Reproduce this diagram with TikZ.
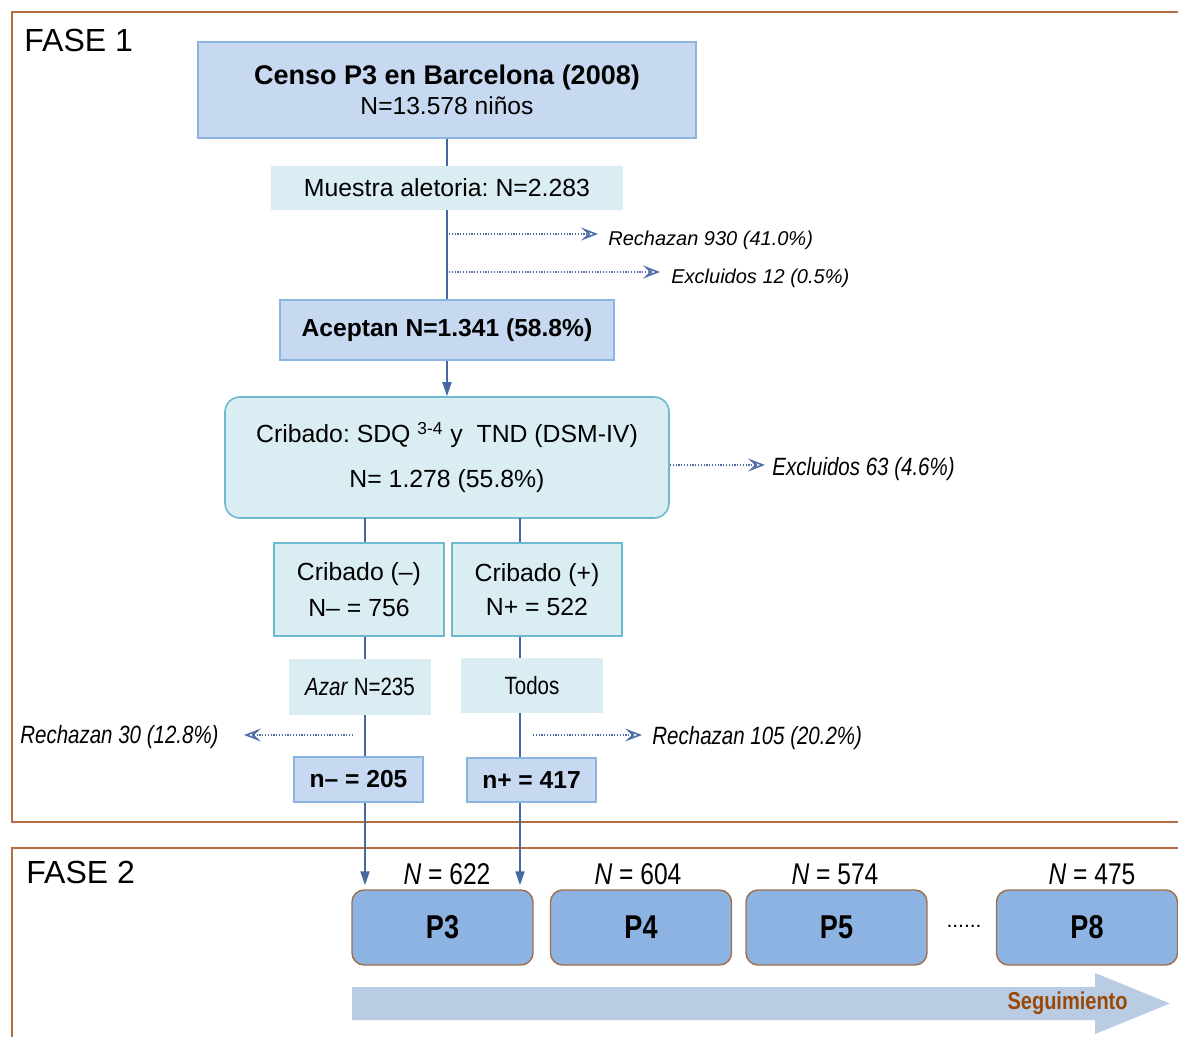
\documentclass[tikz,border=0pt]{standalone}
\usepackage{fontspec}
\setmainfont{Liberation Sans}
\newfontfamily\narrowsans[FakeStretch=0.82]{Liberation Sans}
\usetikzlibrary{positioning,arrows.meta}
\frenchspacing

\definecolor{framebrown}{RGB}{180,110,65}
\definecolor{flowblue}{RGB}{70,105,160}
\definecolor{dotblue}{RGB}{80,110,165}
\definecolor{boxfill}{RGB}{198,217,240}
\definecolor{boxedge}{RGB}{140,180,225}
\definecolor{cyanfill}{RGB}{218,237,243}
\definecolor{cyanedge}{RGB}{110,185,210}
\definecolor{pfill}{RGB}{141,179,226}
\definecolor{pedge}{RGB}{160,110,75}
\definecolor{followfill}{RGB}{185,204,228}
\definecolor{followtext}{RGB}{152,72,7}

\begin{document}
\begin{tikzpicture}[x=0.5pt, y=-0.5pt,
  % Node Styles
  phaselabel/.style={anchor=west, inner sep=0pt, font=\fontsize{16}{19}\selectfont},
  bluebox/.style={rectangle, draw=boxedge, line width=0.8pt, fill=boxfill, inner sep=0pt, align=center, font=\bfseries\fontsize{12.3}{14.8}\selectfont},
  cyanbox/.style={rectangle, fill=cyanfill, inner sep=0pt, align=center, font=\fontsize{12.4}{14.9}\selectfont},
  cribbox/.style={cyanbox, draw=cyanedge, line width=0.8pt},
  pickbox/.style={cyanbox, font=\narrowsans\fontsize{12.5}{15}\selectfont},
  pbox/.style={rectangle, rounded corners=6pt, draw=pedge, line width=0.7pt, fill=pfill, minimum width=90.5pt, minimum height=37.5pt, inner sep=0pt, font=\narrowsans\bfseries\fontsize{16.5}{19}\selectfont},
  ncount/.style={inner sep=0pt, font=\narrowsans\fontsize{15}{18}\selectfont},
  note/.style={inner sep=0pt, font=\itshape\fontsize{10}{12}\selectfont},
  narrownote/.style={inner sep=0pt, font=\narrowsans\itshape\fontsize{12.5}{15}\selectfont},
  % Arrow Styles
  phaseframe/.style={draw=framebrown, line width=1.3pt},
  flowline/.style={draw=flowblue, line width=1pt},
  flowarrow/.style={flowline, -{Triangle[length=7pt,width=4.5pt]}},
  dotarrow/.style={draw=dotblue, line width=0.9pt, dash pattern=on 0.6pt off 0.8pt, -{Stealth[open,length=8.5pt,width=6.5pt,inset=3.5pt,line width=0.8pt]}},
]
\useasboundingbox (0,0) rectangle (1178,1037);

% Phase frames
\draw[phaseframe] (1178,12) -- (12,12) -- (12,822) -- (1178,822);
\draw[phaseframe] (1178,848) -- (12,848) -- (12,1037);
\node[phaselabel] (fase1) at (24,40) {FASE 1};
\node[phaselabel] (fase2) at (26,872) {FASE 2};

% Phase 1 flow
\node[bluebox, minimum width=249pt, minimum height=48pt] (censo) at (447,90) {{\fontsize{13.5}{16}\selectfont Censo P3 en Barcelona (2008)}\\ \mdseries N=13.578 niños};
\node[cyanbox, minimum width=176pt, minimum height=22pt] (muestra) at (447,188) {Muestra aletoria: N=2.283};
\node[bluebox, minimum width=167pt, minimum height=30pt] (aceptan) at (447,330) {Aceptan N=1.341 (58.8\%)};
\node[cribbox, rounded corners=7.5pt, minimum width=222pt, minimum height=60.5pt] (cribado) at (447,457.5) {Cribado: SDQ \textsuperscript{3-4} y\ \ TND (DSM-IV)\\[7.5pt] N= 1.278 (55.8\%)};
\node[cribbox, minimum width=85pt, minimum height=46.5pt] (cribneg) at (359,589.5) {Cribado (–)\\[3pt] N– = 756};
\node[cribbox, minimum width=85pt, minimum height=46.5pt] (cribpos) at (537,589.5) {Cribado (+)\\[2pt] N+ = 522};
\node[pickbox, minimum width=71pt, minimum height=28pt] (azar) at (360,687) {\textit{Azar} N=235};
\node[pickbox, minimum width=71pt, minimum height=27.5pt] (todos) at (532,685.5) {Todos};
\node[bluebox, minimum width=64.5pt, minimum height=22.5pt] (nneg) at (358.5,779.5) {n– = 205};
\node[bluebox, minimum width=64.5pt, minimum height=22pt] (npos) at (531.5,780) {n+ = 417};

% Side notes
\node[note, anchor=west] (rech930) at (608,240) {Rechazan 930 (41.0\%)};
\node[note, anchor=west] (excl12) at (671,278) {Excluidos 12 (0.5\%)};
\node[narrownote, anchor=west] (excl63) at (772,469) {Excluidos 63 (4.6\%)};
\node[narrownote, anchor=east] (rech30) at (219,737) {Rechazan 30 (12.8\%)};
\node[narrownote, anchor=west] (rech105) at (652,738) {Rechazan 105 (20.2\%)};

\coordinate (r1) at (449,234);
\coordinate (e1) at (449,272);
\coordinate (e2) at (670,465);
\coordinate (r2) at (353,735);
\coordinate (r3) at (533,735);
\coordinate (lcol) at (365,518);
\coordinate (rcol) at (520,518);

% Phase 2 visits
\node[pbox] (P3) at (442.5,927.5) {P3};
\node[pbox] (P4) at (641,927.5) {P4};
\node[pbox] (P5) at (836.5,927.5) {P5};
\node[pbox] (P8) at (1087,927.5) {P8};
\node[ncount] (nP3) at (447,874) {\textit{N} = 622};
\node[ncount] (nP4) at (638,874) {\textit{N} = 604};
\node[ncount] (nP5) at (835,874) {\textit{N} = 574};
\node[ncount] (nP8) at (1092,874) {\textit{N} = 475};
\node[inner sep=0pt, font=\fontsize{10.5}{12}\selectfont] (gap) at (964,926) {......};

% Follow-up arrow
\fill[followfill] (352,987) -- (1095,987) -- (1095,973) -- (1170,1003.5) -- (1095,1034) -- (1095,1020) -- (352,1020) -- cycle;
\node[anchor=east, inner sep=0pt, text=followtext, font=\narrowsans\bfseries\fontsize{12.2}{14}\selectfont] (seg) at (1128,1003) {Seguimiento};

% Connectors
\draw[flowline] (censo) -- (muestra);
\draw[flowline] (muestra) -- (aceptan);
\draw[flowarrow] (aceptan) -- (cribado);
\draw[dotarrow, shorten >=5pt] (r1) -- (r1 -| rech930.west);
\draw[dotarrow, shorten >=5.5pt] (e1) -- (e1 -| excl12.west);
\draw[dotarrow, shorten >=3.5pt] (e2) -- (e2 -| excl63.west);
\draw[dotarrow, shorten >=12.5pt] (r2) -- (r2 -| rech30.east);
\draw[dotarrow, shorten >=5pt] (r3) -- (r3 -| rech105.west);

\draw[flowline] (lcol) -- (lcol |- cribneg.north);
\draw[flowline] (lcol |- cribneg.south) -- (lcol |- azar.north);
\draw[flowline] (lcol |- azar.south) -- (lcol |- nneg.north);
\draw[flowarrow, shorten >=2pt] (lcol |- nneg.south) -- (lcol |- P3.north);
\draw[flowline] (rcol) -- (rcol |- cribpos.north);
\draw[flowline] (rcol |- cribpos.south) -- (rcol |- todos.north);
\draw[flowline] (rcol |- todos.south) -- (rcol |- npos.north);
\draw[flowarrow, shorten >=2pt] (rcol |- npos.south) -- (rcol |- P3.north);

\end{tikzpicture}
\end{document}
